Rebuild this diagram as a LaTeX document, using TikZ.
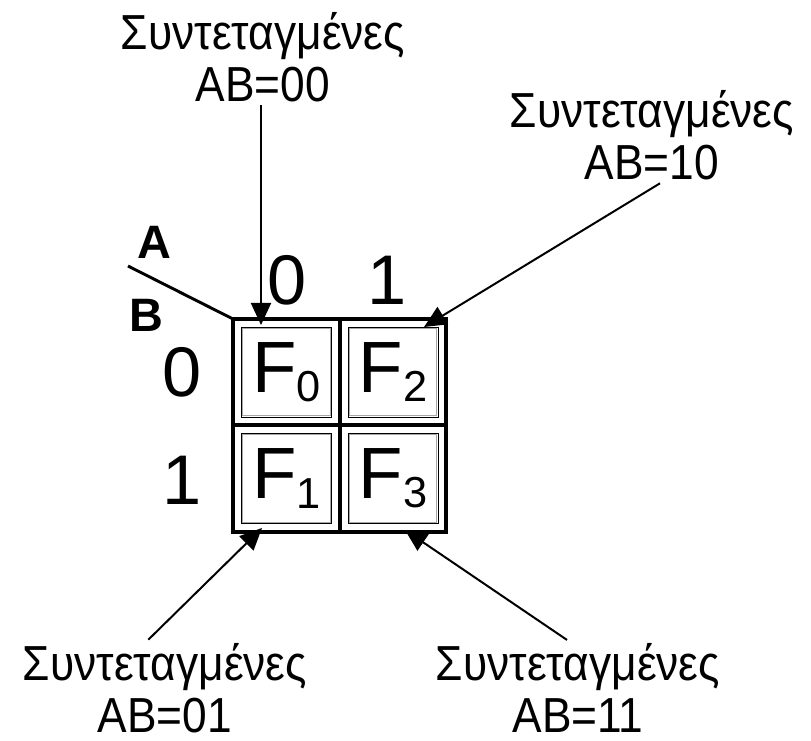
\documentclass[tikz,border=0pt]{standalone}
\usepackage{fontspec}
\setmainfont{Liberation Sans}
\newfontfamily\lblfont{Liberation Sans}[FakeStretch=0.9]
\usetikzlibrary{arrows.meta}

\tikzset{
  lbl/.style={font=\lblfont\fontsize{42}{44}\selectfont, align=center, inner sep=3pt},
  cell/.style={draw, line width=0.8pt, minimum size=2.7cm, inner sep=0pt,
    font=\fontsize{62}{64}\selectfont},
  idx/.style={font=\fontsize{60}{62}\selectfont, inner sep=0pt},
  var/.style={font=\bfseries\fontsize{40}{42}\selectfont, inner sep=0pt},
  ptr/.style={line width=1.7pt, -{Triangle[length=0.66cm,width=0.6cm]}},
}
\newcommand{\fsub}[1]{F\raisebox{-8pt}{\fontsize{37}{37}\selectfont #1}}

\begin{document}
\begin{tikzpicture}[x=0.03cm,y=-0.03cm]
    \useasboundingbox (0,0) rectangle (811,741);
    % outer grid of the map
    \draw[line width=3pt] (233,319) rectangle (446,532);
    \draw[line width=3pt] (340,319) -- (340,532);
    \draw[line width=3pt] (233,425) -- (446,425);
    \foreach \a/\b/\n in {0/0/0,0/1/1,1/0/2,1/1/3} {
        \node[cell] (F\n) at ({286.5+106.5*\a},{372+106.5*\b}) {\fsub{\n}};
        \draw[gray!70,line width=0.8pt] ([shift={(1.8,1.8)}]F\n.north west)
            rectangle ([shift={(-1.8,-1.8)}]F\n.south east);
    }
    % indices
    \node[idx] (c0) at (287,280) {0};
    \node[idx] (c1) at (387,280) {1};
    \node[idx] (r0) at (182,372) {0};
    \node[idx] (r1) at (182,480) {1};
    \node[var] (A) at (154,242) {A};
    \node[var] (B) at (146,315) {B};
    \coordinate (dstart) at (128,266);
    \coordinate (corner) at (233,319);
    \draw[line width=2.5pt] (dstart) -- (corner);
    % coordinate labels
    \node[lbl] (t00) at (263,57) {Συντεταγμένες\\AB=00};
    \node[lbl] (t10) at (652,135) {Συντεταγμένες\\AB=10};
    \node[lbl] (t01) at (165,688) {Συντεταγμένες\\AB=01};
    \node[lbl] (t11) at (578,688) {Συντεταγμένες\\AB=11};
    \coordinate (p00) at (261,325);
    \coordinate (p10) at (424,327);
    \coordinate (p01) at (262,528);
    \coordinate (p11) at (405,530);
    \draw[ptr] (t00.south -| p00) -- (p00);
    \draw[ptr] ([xshift=0.24cm]t10.south) -- (p10);
    \draw[ptr] ([xshift=-0.5cm]t01.north) -- (p01);
    \draw[ptr] ([xshift=-0.33cm]t11.north) -- (p11);
\end{tikzpicture}
\end{document}
